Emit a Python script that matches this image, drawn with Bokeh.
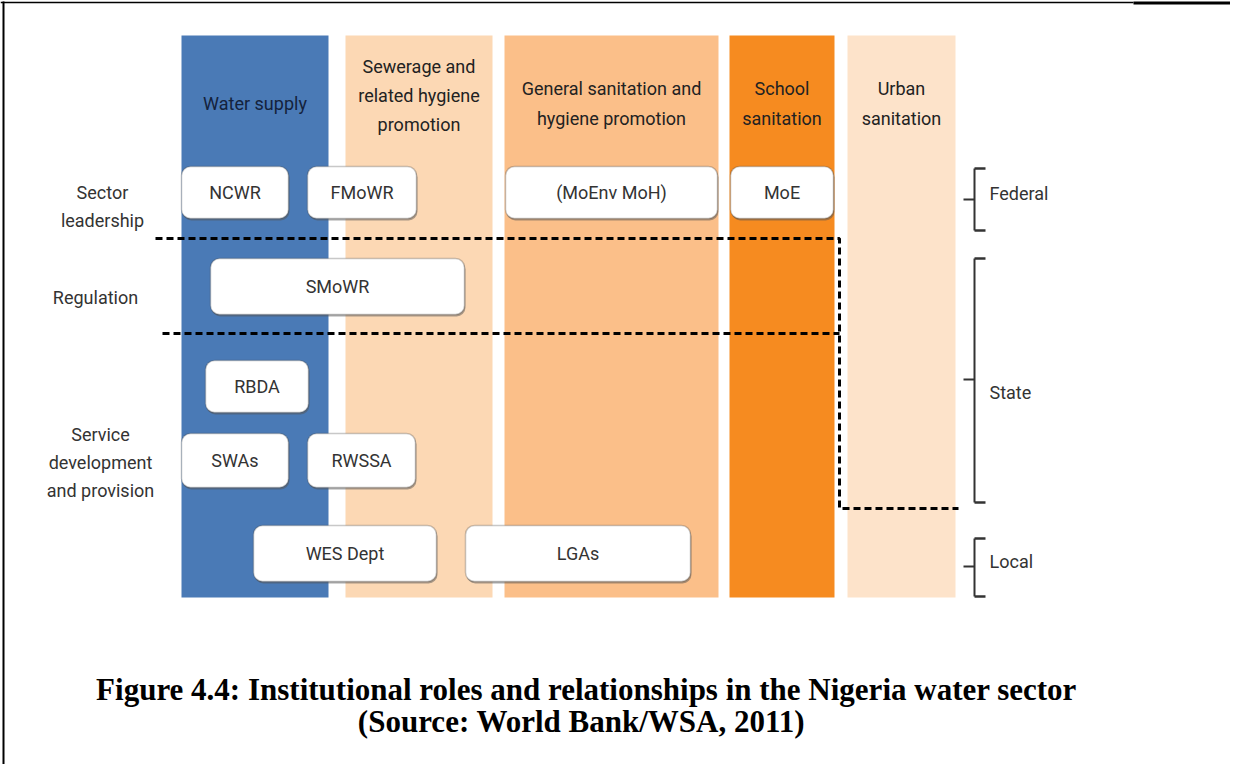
from bokeh.plotting import figure
from bokeh.models import Range1d, BoxAnnotation, ColumnDataSource
from bokeh.core.properties import value
from bokeh.embed import file_html
from bokeh.resources import INLINE

# ---- content ----
sectors = ["Water supply", "Sewerage and\nrelated hygiene\npromotion",
           "General sanitation and\nhygiene promotion", "School\nsanitation",
           "Urban\nsanitation"]
sector_colors = ["#4a7ab6", "#fcd8b4", "#fbbf89", "#f68b20", "#fde3ca"]
sector_text_colors = ["#14223c", "#222222", "#222222", "#222222", "#222222"]

roles = ["Sector\nleadership", "Regulation", "Service\ndevelopment\nand provision"]
levels = ["Federal", "State", "Local"]

institutions = ["NCWR", "FMoWR", "(MoEnv MoH)", "MoE", "SMoWR", "RBDA",
                "SWAs", "RWSSA", "WES Dept", "LGAs"]

caption_1 = "Figure 4.4: Institutional roles and relationships in the Nigeria water sector"
caption_2 = "(Source: World Bank/WSA, 2011)"

# ---- layout (page pixel coordinates) ----
col_left = [181, 345, 504, 729, 847]
col_right = [328, 492, 718, 834, 955]
col_top, col_bottom = 35, 597
header_y = [103, 95, 103, 103, 103]

box_l = [181, 307, 505, 730, 210, 205, 181, 307, 253, 465]
box_r = [288, 416, 717, 833, 464, 308, 288, 415, 436, 690]
box_t = [166, 166, 166, 166, 258, 360, 433, 433, 525, 525]
box_b = [218, 218, 218, 218, 314, 412, 487, 487, 581, 581]

role_x = [102, 95, 100]
role_y = [206, 297, 462]

level_y = [193, 392, 561]
bracket_top = [168, 258, 538]
bracket_mid = [199, 379, 566]
bracket_bot = [230, 502, 596]
bracket_x = 974

W, H = 1230, 764
p = figure(width=W, height=H, x_range=Range1d(0, W), y_range=Range1d(H, 0),
           output_backend="svg", toolbar_location=None, min_border=0)
p.axis.visible = False
p.grid.visible = False
p.outline_line_color = None
p.background_fill_color = "white"

FONT = value("Roboto")

# page frame
p.segment(x0=[3], y0=[1], x1=[3], y1=[H], line_color="black", line_width=2)
p.segment(x0=[0], y0=[2], x1=[1133], y1=[2], line_color="black", line_width=1.5)
p.segment(x0=[1133], y0=[2.5], x1=[W], y1=[2.5], line_color="black", line_width=3)

# sector columns
cs = ColumnDataSource(dict(l=col_left, r=col_right, t=[col_top] * 5, b=[col_bottom] * 5,
                           c=sector_colors))
p.quad(left="l", right="r", top="t", bottom="b", fill_color="c", line_color=None, source=cs)

hx = [(a + b) / 2 for a, b in zip(col_left, col_right)]
p.text(x=hx, y=header_y, text=sectors, text_align="center", text_baseline="middle",
       text_font=FONT, text_font_size="18px", text_color=sector_text_colors,
       text_line_height=1.4)

# dashed boundaries
dash = "7 4"
p.line(x=[155, 839, 839, 958], y=[238, 238, 508, 508], line_color="black",
       line_width=3, line_dash=dash)
p.line(x=[162, 839], y=[333, 333], line_color="black", line_width=3, line_dash=dash)

# institution boxes
for l, r, t, b in zip(box_l, box_r, box_t, box_b):
    p.add_layout(BoxAnnotation(left=l + 1, right=r + 1, top=t + 2, bottom=b + 2,
                               fill_color="#555555", fill_alpha=0.5, line_color=None,
                               border_radius=9))
    p.add_layout(BoxAnnotation(left=l, right=r, top=t, bottom=b, fill_color="white",
                               fill_alpha=1, line_color="#4a4a4a", line_width=1.5,
                               border_radius=9))
bx = [(a + b) / 2 for a, b in zip(box_l, box_r)]
by = [(a + b) / 2 for a, b in zip(box_t, box_b)]
tr = p.text(x=bx, y=by, text=institutions, text_align="center", text_baseline="middle",
            text_font=FONT, text_font_size="18px", text_color="#333333")
tr.level = "overlay"

# role labels
p.text(x=role_x, y=role_y, text=roles, text_align="center", text_baseline="middle",
       text_font=FONT, text_font_size="18px", text_color="#333333", text_line_height=1.35)

# level brackets
n = len(levels)
p.segment(x0=[bracket_x] * n, y0=bracket_top, x1=[bracket_x] * n, y1=bracket_bot,
          line_color="#333333", line_width=2)
p.segment(x0=[bracket_x] * n, y0=bracket_top, x1=[bracket_x + 11] * n, y1=bracket_top,
          line_color="#333333", line_width=2.5)
p.segment(x0=[bracket_x] * n, y0=bracket_bot, x1=[bracket_x + 11] * n, y1=bracket_bot,
          line_color="#333333", line_width=2.5)
p.segment(x0=[bracket_x - 11] * n, y0=bracket_mid, x1=[bracket_x] * n, y1=bracket_mid,
          line_color="#333333", line_width=2)
p.text(x=[989] * n, y=level_y, text=levels, text_align="left", text_baseline="middle",
       text_font=FONT, text_font_size="18px", text_color="#333333")

# caption
p.text(x=[586, 581], y=[689, 721], text=[caption_1, caption_2], text_align="center",
       text_baseline="middle", text_font=value("Liberation Serif"),
       text_font_style="bold", text_font_size="31px", text_color="black")

open("out.html", "w").write(file_html(p, INLINE))
